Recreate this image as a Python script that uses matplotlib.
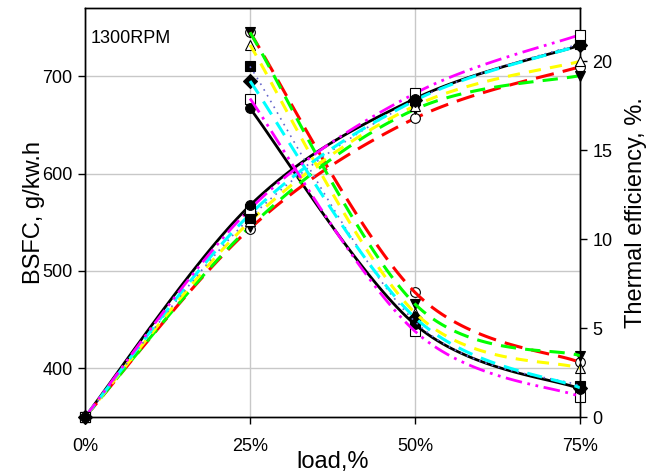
import matplotlib
matplotlib.use("Agg")
import matplotlib.pyplot as plt
import numpy as np

plt.rcParams['font.family'] = ['Liberation Sans', 'DejaVu Sans']

# data
load = [0, 25, 50, 75]
load_labels = ['0%', '25%', '50%', '75%']
bsfc_load = [25, 50, 75]

# BSFC, g/kw.h (left axis)
bsfc_black = [667, 445, 379]
bsfc_red = [745, 478, 406]
bsfc_green = [745, 466, 413]
bsfc_yellow = [732, 457, 400]
bsfc_cyan = [695, 452, 380]
bsfc_dotted = [710, 448, 382]
bsfc_magenta = [677, 438, 371]

# thermal efficiency, % (right axis)
te_black = [0, 11.9, 17.9, 20.9]
te_red = [0, 10.6, 16.8, 19.7]
te_green = [0, 10.7, 17.3, 19.2]
te_yellow = [0, 11.0, 17.5, 20.0]
te_cyan = [0, 11.4, 17.8, 20.9]
te_dotted = [0, 11.2, 17.8, 21.0]
te_magenta = [0, 11.7, 18.2, 21.5]

XLIM = (0, 75)
YL = (350, 770)
YR = (0, 23)


def smooth(x, y, ylim, n=40):
    # Excel-like smoothed line (cardinal spline through the points)
    x = np.asarray(x, float)
    y = np.asarray(y, float)
    xs = (x - XLIM[0]) / (XLIM[1] - XLIM[0])
    ys = (y - ylim[0]) / (ylim[1] - ylim[0])
    P = np.column_stack([xs, ys])
    out = [P[0]]
    t = np.linspace(0, 1, n)[1:, None]
    for i in range(len(P) - 1):
        p0 = P[i - 1] if i > 0 else P[i]
        p3 = P[i + 2] if i + 2 < len(P) else P[i + 1]
        c1 = P[i] + (P[i + 1] - p0) / 6
        c2 = P[i + 1] - (p3 - P[i]) / 6
        seg = ((1 - t) ** 3 * P[i] + 3 * (1 - t) ** 2 * t * c1
               + 3 * (1 - t) * t ** 2 * c2 + t ** 3 * P[i + 1])
        out.extend(seg)
    out = np.array(out)
    return (out[:, 0] * (XLIM[1] - XLIM[0]) + XLIM[0],
            out[:, 1] * (ylim[1] - ylim[0]) + ylim[0])


styles = [
    # bsfc, te, color, dashes, lw, marker, face
    (bsfc_black, te_black, 'black', None, 2.0, 'o', 'black'),
    (bsfc_red, te_red, '#ff0000', (6, 3), 2.2, 'o', 'white'),
    (bsfc_green, te_green, '#00ff00', (5, 3), 2.2, 'v', 'black'),
    (bsfc_yellow, te_yellow, '#ffff00', (4, 3), 2.2, '^', 'white'),
    (bsfc_dotted, te_dotted, '#6666cc', (1, 3), 1.2, 's', 'black'),
    (bsfc_cyan, te_cyan, '#00ffff', (5, 3), 2.2, 'D', 'black'),
    (bsfc_magenta, te_magenta, '#ff00ff', (6, 2, 1, 2, 1, 2), 2.0, 's', 'white'),
]

fig = plt.figure(figsize=(6.46, 4.74), dpi=100)
ax = fig.add_axes([85 / 646, 1 - 417 / 474, 495 / 646, 409 / 474])
ax2 = ax.twinx()

for i, (b, te, col, dash, lw, mk, face) in enumerate(styles):
    xs, ys = smooth(bsfc_load, b, YL)
    xt, yt = smooth(load, te, YR)
    for a, xx, yy in ((ax2, xs, (ys - YL[0]) / (YL[1] - YL[0]) * YR[1]), (ax2, xt, yt)):
        line, = a.plot(xx, yy, color=col, lw=lw, zorder=2 + i * 0.1)
        if dash is not None:
            line.set_dashes(dash)
    # black markers end up on top, like in the original
    mz = 6 if col == 'black' else 5
    ax.plot(bsfc_load, b, linestyle='none', marker=mk, ms=7, mfc=face,
            mec='black', mew=0.8, zorder=mz, clip_on=False)
    ax2.plot(load, te, linestyle='none', marker=mk, ms=7, mfc=face,
             mec='black', mew=0.8, zorder=mz, clip_on=False)

ax.set_xlim(*XLIM)
ax.set_ylim(*YL)
ax2.set_ylim(*YR)
ax.set_xticks(load)
ax.set_xticklabels(load_labels)
ax.set_yticks([400, 500, 600, 700])
ax2.set_yticks([0, 5, 10, 15, 20])
ax.grid(True, color='#c8c8c8', lw=1)
ax.set_axisbelow(True)

for a in (ax, ax2):
    a.tick_params(labelsize=13, direction='out', length=5, width=1, pad=4)
    for s in a.spines.values():
        s.set_linewidth(1)
ax.tick_params(axis='x', pad=10)

ax.set_xlabel('load,%', fontsize=17, labelpad=-3)
ax.set_ylabel('BSFC, g/kw.h', fontsize=17, labelpad=-2)
ax2.set_ylabel('Thermal efficiency, %.', fontsize=17, labelpad=9)
ax.text(0.012, 0.925, '1300RPM', transform=ax.transAxes, fontsize=13,
        va='center', ha='left')

fig.savefig('out.png', dpi=100)
